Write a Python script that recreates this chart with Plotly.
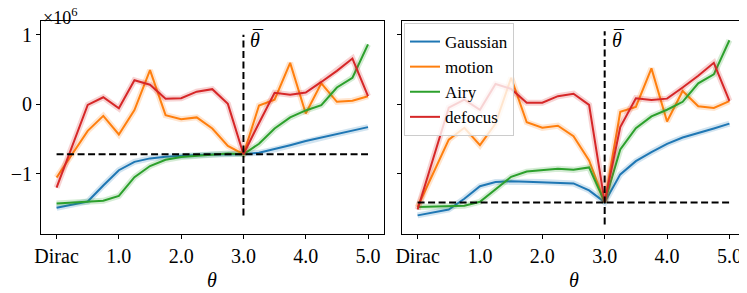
import plotly.graph_objects as go

THETA = [0, 0.5, 0.75, 1.0, 1.25, 1.5, 1.75, 2.0, 2.25, 2.5, 2.75,
         3.0, 3.25, 3.5, 3.75, 4.0, 4.25, 4.5, 4.75, 5.0]
X_TICKVALS = [0, 1, 2, 3, 4, 5]
X_TICKTEXT = ["Dirac", "1.0", "2.0", "3.0", "4.0", "5.0"]
Y_TICKVALS = [-1, 0, 1]
Y_TICKTEXT = ["\u22121", "0", "1"]
SERIES_NAMES = ["Gaussian", "motion", "Airy", "defocus"]

# left panel (values x 1e6)
gaussian_L = [-1.49, -1.40, -1.17, -0.95, -0.83, -0.78, -0.755, -0.74, -0.73, -0.725, -0.72,
              -0.72, -0.70, -0.65, -0.59, -0.53, -0.48, -0.43, -0.38, -0.33]
motion_L = [-1.055, -0.384, -0.168, -0.436, -0.086, 0.49, -0.158, -0.216, -0.19, -0.35, -0.60,
            -0.72, -0.02, 0.065, 0.595, -0.135, 0.30, 0.034, 0.05, 0.115]
airy_L = [-1.43, -1.41, -1.39, -1.32, -1.05, -0.89, -0.80, -0.76, -0.74, -0.73, -0.71,
          -0.72, -0.57, -0.35, -0.19, -0.09, -0.014, 0.24, 0.38, 0.86]
defocus_L = [-1.20, -0.01, 0.10, -0.06, 0.345, 0.28, 0.08, 0.086, 0.18, 0.216, 0.005,
             -0.72, -0.27, 0.165, 0.137, 0.168, 0.32, 0.48, 0.657, 0.115]

# right panel (values x 1e6)
gaussian_R = [-1.60, -1.515, -1.36, -1.18, -1.12, -1.11, -1.115, -1.12, -1.125, -1.14, -1.24,
              -1.41, -1.01, -0.82, -0.69, -0.57, -0.48, -0.42, -0.35, -0.28]
motion_R = [-1.48, -0.51, -0.34, -0.59, -0.28, 0.38, -0.26, -0.34, -0.31, -0.46, -0.81,
            -1.41, -0.11, -0.04, 0.515, -0.25, 0.19, -0.03, -0.053, 0.043]
airy_R = [-1.48, -1.47, -1.46, -1.405, -1.22, -1.045, -0.97, -0.95, -0.93, -0.945, -0.91,
          -1.41, -0.65, -0.345, -0.175, -0.08, 0.034, 0.30, 0.43, 0.92]
defocus_R = [-1.515, -0.05, 0.065, -0.08, 0.29, 0.22, 0.02, 0.02, 0.115, 0.15, -0.01,
             -1.41, -0.33, 0.085, 0.06, 0.08, 0.24, 0.41, 0.595, 0.048]

# reference lines: theta_bar and baseline level
THETA_BAR = 3.0
HLINE_L = -0.72
HLINE_R = -1.415
VLINE_L = [-1.6, 1.0]
VLINE_R = [-1.73, 1.05]
HLINE_X = [0, 5]

COLORS = ["#1f77b4", "#ff7f0e", "#2ca02c", "#d62728"]
FAINT = ["rgba(31,119,180,0.2)", "rgba(255,127,14,0.2)",
         "rgba(44,160,44,0.2)", "rgba(214,39,40,0.2)"]
FONT = "'Liberation Serif', 'Times New Roman', 'DejaVu Serif', serif"

fig = go.Figure()

panels = [
    ("x", "y", [gaussian_L, motion_L, airy_L, defocus_L], HLINE_L, VLINE_L, False),
    ("x2", "y2", [gaussian_R, motion_R, airy_R, defocus_R], HLINE_R, VLINE_R, True),
]

for xa, ya, data, hl, vl, show in panels:
    for i, ys in enumerate(data):
        fig.add_trace(go.Scatter(x=THETA, y=ys, xaxis=xa, yaxis=ya, mode="lines",
                                 line=dict(color=FAINT[i], width=6), hoverinfo="skip",
                                 showlegend=False))
        fig.add_trace(go.Scatter(x=THETA, y=ys, xaxis=xa, yaxis=ya, mode="lines",
                                 name=SERIES_NAMES[i], line=dict(color=COLORS[i], width=2),
                                 showlegend=show))
    fig.add_trace(go.Scatter(x=HLINE_X, y=[hl, hl], xaxis=xa, yaxis=ya, mode="lines",
                             line=dict(color="black", width=2, dash="7px,3.5px"),
                             showlegend=False))
    fig.add_trace(go.Scatter(x=[THETA_BAR, THETA_BAR], y=vl, xaxis=xa, yaxis=ya, mode="lines",
                             line=dict(color="black", width=2, dash="7px,3.5px"),
                             showlegend=False))

# page body has an 8px margin: the figure sits at (8, 8) in the window
OFF = 8
W, H = 747 - OFF, 293 - OFF
ML, MR, MT, MB = 41 - OFF, 2, 21 - OFF, 59
pw = W - ML - MR
ph = H - MT - MB
dom_L = [0, (383.6 - 41) / pw]
dom_R = [(402 - 41) / pw, 1]

axis_common = dict(showline=True, mirror=True, linecolor="black", linewidth=1,
                   ticks="outside", ticklen=4, tickwidth=1, tickcolor="black",
                   showgrid=False, zeroline=False,
                   tickfont=dict(family=FONT, size=20, color="black"))
XR = [-0.25, 5.25]
YR = [-1.868, 1.197]

fig.update_layout(
    width=W, height=H,
    margin=dict(l=ML, r=MR, t=MT, b=MB),
    plot_bgcolor="white", paper_bgcolor="white",
    font=dict(family=FONT, color="black"),
    xaxis=dict(domain=dom_L, range=XR, tickvals=X_TICKVALS, ticktext=X_TICKTEXT,
               anchor="y", **axis_common),
    xaxis2=dict(domain=dom_R, range=XR, tickvals=X_TICKVALS, ticktext=X_TICKTEXT,
                anchor="y2", **axis_common),
    yaxis=dict(range=YR, tickvals=Y_TICKVALS, ticktext=Y_TICKTEXT, anchor="x", **axis_common),
    yaxis2=dict(range=YR, tickvals=Y_TICKVALS, ticktext=Y_TICKTEXT, anchor="x2",
                showticklabels=False, **axis_common),
    legend=dict(x=(404 - 41) / pw, y=1 - 2 / ph, xanchor="left", yanchor="top",
                bgcolor="rgba(255,255,255,0.8)", bordercolor="#cccccc", borderwidth=1,
                font=dict(family=FONT, size=17, color="black"), tracegroupgap=0),
    showlegend=True,
)

ann = []
for xr, yr, dom in [("x", "y", dom_L), ("x2", "y2", dom_R)]:
    # theta with an overbar drawn as a separate macron glyph
    ann.append(dict(x=THETA_BAR + 0.08, y=0.93, xref=xr, yref=yr, text="<i>θ</i>",
                    showarrow=False, xanchor="left", yanchor="middle",
                    font=dict(family=FONT, size=20, color="black")))
    ann.append(dict(x=THETA_BAR + 0.1, y=0.95, xref=xr, yref=yr, text="\u00af",
                    showarrow=False, xanchor="left", yanchor="middle",
                    font=dict(family=FONT, size=20, color="black")))
    ann.append(dict(x=(dom[0] + dom[1]) / 2, y=-(280 - 234) / ph, xref="paper", yref="paper",
                    text="<i>θ</i>", showarrow=False, xanchor="center", yanchor="middle",
                    font=dict(family=FONT, size=20, color="black")))
ann.append(dict(x=0.0, y=1 + (21 - 17) / ph, xref="paper", yref="paper",
                text="×10<sup>6</sup>", showarrow=False, xanchor="left", yanchor="middle",
                font=dict(family=FONT, size=18, color="black")))
fig.update_layout(annotations=ann)

fig.write_html("out.html")
